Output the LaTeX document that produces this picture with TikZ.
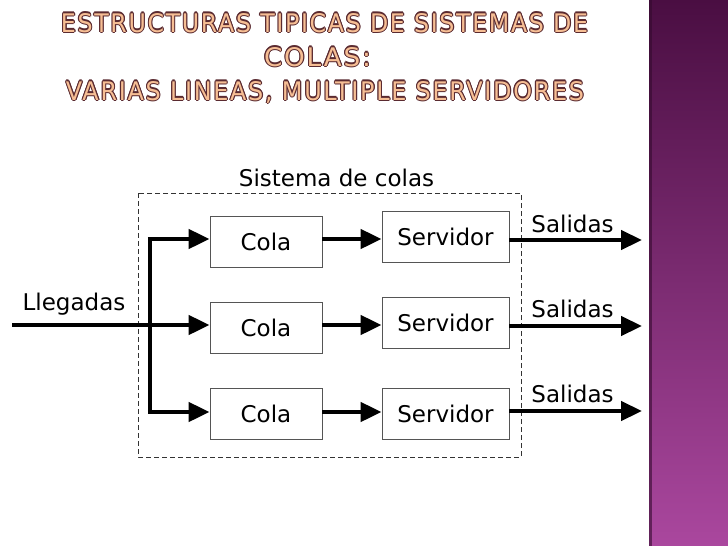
\documentclass[tikz,border=0pt]{standalone}
\usepackage{fontspec}
\setmainfont{DejaVu Sans}
\newfontfamily\titlefont{DejaVu Sans}[LetterSpace=7]
\usetikzlibrary{arrows.meta}
\definecolor{tdark}{HTML}{5A2A30}
\definecolor{tfill}{HTML}{F6BE94}
\definecolor{ptop}{HTML}{4A0E42}
\definecolor{pbot}{HTML}{AA479E}
\definecolor{boxgray}{HTML}{555555}
\newcommand{\tline}[3]{\resizebox{#1pt}{#2pt}{\titlefont #3}}
\begin{document}
\begin{tikzpicture}[x=1pt,y=-1pt,
  txt/.style={font=\fontsize{23}{23}\selectfont, inner sep=0pt},
  box/.style={draw=boxgray, line width=0.9pt, minimum height=51pt, inner sep=0pt, txt},
  arr/.style={line width=4.5pt, -{Triangle[length=21pt,width=19pt]}},
  thick line/.style={line width=4.5pt},
  dashbox/.style={draw=black!80, line width=0.9pt, dash pattern=on 5pt off 3pt},
  ttl/.style={inner sep=0pt, anchor=base}
]
\useasboundingbox (0,0) rectangle (728,546);
% purple strip
\fill[top color=ptop, bottom color=pbot] (649,0) rectangle (728,546);
\fill[ptop!70!black, opacity=0.6] (649,0) rectangle (652,546);
% title
\coordinate (t1) at (324.5,32);
\coordinate (t2) at (317.5,66);
\coordinate (t3) at (325,100);
\foreach \a in {0,45,...,315}{
  \node[ttl, text=tdark, shift={(\a:1.1)}] at (t1) {\tline{527}{19}{ESTRUCTURAS TIPICAS DE SISTEMAS DE}};
  \node[ttl, text=tdark, shift={(\a:1.1)}] at (t2) {\tline{107}{19}{COLAS:}};
  \node[ttl, text=tdark, shift={(\a:1.1)}] at (t3) {\tline{518}{19}{VARIAS LINEAS, MULTIPLE SERVIDORES}};
}
\node[ttl, text=tfill] (title1) at (t1) {\tline{527}{19}{ESTRUCTURAS TIPICAS DE SISTEMAS DE}};
\node[ttl, text=tfill] (title2) at (t2) {\tline{107}{19}{COLAS:}};
\node[ttl, text=tfill] (title3) at (t3) {\tline{518}{19}{VARIAS LINEAS, MULTIPLE SERVIDORES}};
% dashed system box
\draw[dashbox] (138,193) rectangle (521,457);
\node[txt, anchor=base] (sys) at (336.5,186) {Sistema de colas};
% queues and servers
\node[box, minimum width=112pt] (c1) at (266,241.5) {Cola};
\node[box, minimum width=112pt] (c2) at (266,327.5) {Cola};
\node[box, minimum width=112pt] (c3) at (266,413.5) {Cola};
\node[box, minimum width=127pt] (s1) at (445.5,236.5) {Servidor};
\node[box, minimum width=127pt] (s2) at (445.5,322.5) {Servidor};
\node[box, minimum width=127pt] (s3) at (445.5,414) {Servidor};
% arrivals
\coordinate (in) at (12,325);
\coordinate (b1) at (150,239);
\coordinate (b3) at (150,412);
\node[txt, anchor=base] (lleg) at (74,310) {Llegadas};
\draw[arr] (in) -- (in -| c2.west);
\draw[thick line] (b1) -- (b3);
\draw[arr] (b1) ++(-2.25,0) -- (b1 -| c1.west);
\draw[arr] (b3) ++(-2.25,0) -- (b3 -| c3.west);
% queue to server
\draw[arr] (c1.east |- b1) -- (s1.west |- b1);
\draw[arr] (c2.east |- in) -- (s2.west |- in);
\draw[arr] (c3.east |- b3) -- (s3.west |- b3);
% outputs
\coordinate (o1) at (642,240);
\coordinate (o2) at (642,326);
\coordinate (o3) at (642,411);
\draw[arr] (s1.east |- o1) -- (o1);
\draw[arr] (s2.east |- o2) -- (o2);
\draw[arr] (s3.east |- o3) -- (o3);
\node[txt, anchor=base] (sal1) at (572.5,232) {Salidas};
\node[txt, anchor=base] (sal2) at (572.5,317) {Salidas};
\node[txt, anchor=base] (sal3) at (572.5,402) {Salidas};
\end{tikzpicture}
\end{document}
